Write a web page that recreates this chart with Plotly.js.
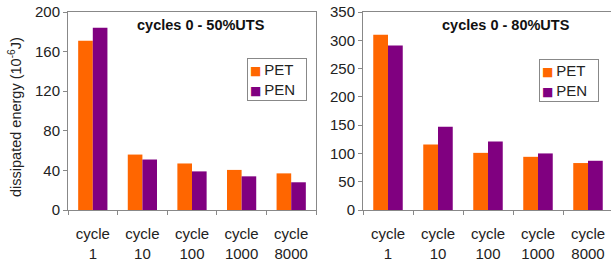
<!DOCTYPE html>
<html>
<head>
<meta charset="utf-8">
<script src="https://cdn.plot.ly/plotly-3.0.1.min.js"></script>
<style>
html,body{margin:0;padding:0;overflow:hidden;background:#fff;}
#chart{width:613px;height:262px;}
</style>
</head>
<body>
<div id="chart"></div>
<script>
var categories = ["cycle<br>1", "cycle<br>10", "cycle<br>100", "cycle<br>1000", "cycle<br>8000"];
var pet50 = [171, 56, 47, 40.5, 37];
var pen50 = [184, 51, 39, 34, 28];
var pet80 = [310, 116, 101, 94, 83];
var pen80 = [291, 147, 121, 100, 87];
var yTicks50 = [0, 40, 80, 120, 160, 200];
var yTicks80 = [0, 50, 100, 150, 200, 250, 300, 350];
var seriesNames = ["PET", "PEN"];
var title50 = "cycles 0 - 50%UTS";
var title80 = "cycles 0 - 80%UTS";
var yTitle = "dissipated energy (10<sup>-6</sup>J)";

var COLORS = ["#FF6600", "#800080"];
var FONT = "Liberation Sans, Arial, sans-serif";

var traces = [
  {type:"bar", name:seriesNames[0], x:categories, y:pet50, xaxis:"x", yaxis:"y", marker:{color:COLORS[0]}},
  {type:"bar", name:seriesNames[1], x:categories, y:pen50, xaxis:"x", yaxis:"y", marker:{color:COLORS[1]}},
  {type:"bar", name:seriesNames[0], x:categories, y:pet80, xaxis:"x2", yaxis:"y2", marker:{color:COLORS[0]}},
  {type:"bar", name:seriesNames[1], x:categories, y:pen80, xaxis:"x2", yaxis:"y2", marker:{color:COLORS[1]}}
];

var axCommonX = {
  type:"category", showline:true, linecolor:"#888", linewidth:1, mirror:true,
  ticks:"outside", ticklen:4, tickcolor:"#888", tickson:"boundaries",
  showgrid:false, zeroline:false, fixedrange:true,
  tickfont:{family:FONT, size:15, color:"#222"}, ticklabelstandoff:10
};
var axCommonY = {
  showline:true, linecolor:"#888", linewidth:1, mirror:true,
  ticks:"outside", ticklen:4, tickcolor:"#888",
  showgrid:false, zeroline:false, fixedrange:true,
  tickfont:{family:FONT, size:15, color:"#222"}
};

var W = 613, ml = 68, mt = 12, mb = 52;
var pw = W - ml;
var ph = 262 - mt - mb;
function px(x){ return (x - ml)/pw; }
function py(y){ return 1 - (y - mt)/ph; }

var legendText = seriesNames.map(function(n, i){
  return "<span style='color:" + COLORS[i] + ";font-family:DejaVu Sans;font-size:12px'>\u25A0</span>\u2009" + n;
}).join("<br>");

function legendBox(xLeft, yTop){
  return {text:legendText, xref:"paper", yref:"paper", x:px(xLeft), y:py(yTop),
    xanchor:"left", yanchor:"top", align:"left", valign:"middle",
    width:54, height:37, borderpad:2, bordercolor:"#888", borderwidth:1, bgcolor:"#fff",
    showarrow:false, font:{family:FONT, size:15, color:"#222"}};
}

var layout = {
  width: W, height: 262,
  margin:{l:ml, r:0, t:mt, b:mb, pad:0},
  paper_bgcolor:"#fff", plot_bgcolor:"#fff",
  font:{family:FONT, color:"#222"},
  barmode:"group", bargap:0.41, bargroupgap:0,
  showlegend:false,
  xaxis: Object.assign({}, axCommonX, {domain:[0, px(316)], anchor:"y"}),
  yaxis: Object.assign({}, axCommonY, {range:[0,200], tickvals:yTicks50, ticktext:yTicks50.map(String), anchor:"x"}),
  xaxis2: Object.assign({}, axCommonX, {domain:[px(363), 1], anchor:"y2"}),
  yaxis2: Object.assign({}, axCommonY, {range:[0,350], tickvals:yTicks80, ticktext:yTicks80.map(String), anchor:"x2"}),
  annotations:[
    {text:"<b>"+title50+"</b>", xref:"paper", yref:"paper", x:px(201), y:py(25), xanchor:"center", yanchor:"middle",
     showarrow:false, font:{family:FONT, size:14.5, color:"#111"}},
    {text:"<b>"+title80+"</b>", xref:"paper", yref:"paper", x:px(506), y:py(25), xanchor:"center", yanchor:"middle",
     showarrow:false, font:{family:FONT, size:14.5, color:"#111"}},
    {text:yTitle, xref:"paper", yref:"paper", x:px(15), y:py(117), xanchor:"center", yanchor:"middle",
     textangle:-90, showarrow:false, font:{family:FONT, size:14.5, color:"#222"}},
    legendBox(247, 58),
    legendBox(539, 59)
  ]
};

Plotly.newPlot("chart", traces, layout, {staticPlot:true, displayModeBar:false});
</script>
</body>
</html>
